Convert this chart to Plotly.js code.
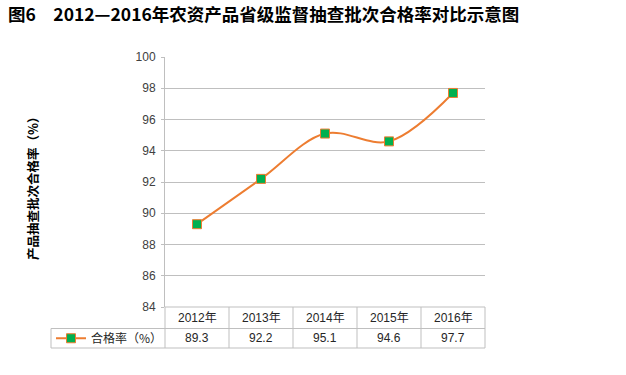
<!DOCTYPE html>
<html>
<head>
<meta charset="utf-8">
<script src="https://cdn.plot.ly/plotly-3.0.1.min.js"></script>
<style>
html,body{margin:0;padding:0;background:#fff;}
#chart{width:626px;height:375px;}
</style>
</head>
<body>
<div id="chart"></div>
<script>
// ---- data ----
const years = ['2012年', '2013年', '2014年', '2015年', '2016年'];
const rate = [89.3, 92.2, 95.1, 94.6, 97.7];
const seriesName = '合格率（%）';
const yTicks = [84, 86, 88, 90, 92, 94, 96, 98, 100];
const chartTitle = '图6　2012—2016年农资产品省级监督抽查批次合格率对比示意图';
const yTitle = '产品抽查批次合格率（%）';

// ---- layout helpers ----
const W = 626, H = 375;
const mL = 165, mR = 141, mT = 57, mB = 68;
const plotW = W - mL - mR, plotH = H - mT - mB;
const px2x = p => (p - mL) / plotW;        // page px -> paper x
const px2y = p => (H - mB - p) / plotH;    // page px -> paper y

const gridC = '#bfbfbf';
const tableFont = "'Liberation Sans', 'Noto Sans CJK SC', sans-serif";

const rowMid = px2y(328.5), rowBot = px2y(348);
const legLeft = px2x(51);

const shapes = [];
const lineStyle = {color: gridC, width: 1};
shapes.push({type:'line', xref:'paper', yref:'paper', x0:0, x1:1, y0:0, y1:0, line:lineStyle});
shapes.push({type:'line', xref:'paper', yref:'paper', x0:legLeft, x1:1, y0:rowMid, y1:rowMid, line:lineStyle});
shapes.push({type:'line', xref:'paper', yref:'paper', x0:legLeft, x1:1, y0:rowBot, y1:rowBot, line:lineStyle});
shapes.push({type:'line', xref:'paper', yref:'paper', x0:legLeft, x1:legLeft, y0:rowMid, y1:rowBot, line:lineStyle});
for (let i = 0; i <= years.length; i++) {
  const xv = i / years.length;
  shapes.push({type:'line', xref:'paper', yref:'paper', x0:xv, x1:xv, y0:rowBot, y1:0, line:lineStyle});
}

const annotations = [];
years.forEach((yr, i) => {
  annotations.push({xref:'x', yref:'paper', x:yr, y:(0 + rowMid) / 2, text:yr, showarrow:false,
    xanchor:'center', yanchor:'middle', font:{family:tableFont, size:12, color:'#262626'}});
  annotations.push({xref:'x', yref:'paper', x:yr, y:(rowMid + rowBot) / 2, text:rate[i].toFixed(1), showarrow:false,
    xanchor:'center', yanchor:'middle', font:{family:tableFont, size:12, color:'#262626'}});
});
annotations.push({xref:'paper', yref:'paper', x:px2x(32), y:px2y(185), text:yTitle, textangle:-90,
  showarrow:false, xanchor:'center', yanchor:'middle',
  font:{family:"'Noto Sans CJK SC', sans-serif", size:12.5, weight:'bold', color:'#000'}});

const trace = {
  x: years, y: rate, name: seriesName, type: 'scatter', mode: 'lines+markers',
  line: {color:'#ED7D31', width:2, shape:'spline', smoothing:1},
  marker: {symbol:'square', size:9, color:'#00B050', line:{color:'#ED7D31', width:1}},
  cliponaxis: false
};

const layout = {
  width: W, height: H,
  margin: {l:mL, r:mR, t:mT, b:mB, pad:0},
  paper_bgcolor:'#fff', plot_bgcolor:'#fff',
  title: {text: chartTitle, xref:'container', yref:'container', x: 8 / W, xanchor:'left',
    y: 1 - 15 / H, yanchor:'middle',
    font:{family:"'Noto Sans CJK SC', sans-serif", size:17.5, weight:'bold', color:'#000'}},
  xaxis: {type:'category', range:[-0.5, years.length - 0.5], showticklabels:false, showgrid:false,
    zeroline:false, showline:false, ticks:'', fixedrange:true},
  yaxis: {range:[84, 100], tickvals:yTicks, ticktext:yTicks.map(String), showgrid:true, gridcolor:gridC,
    gridwidth:1, zeroline:false, showline:true, linecolor:gridC, linewidth:1, ticks:'outside', ticklen:3,
    tickcolor:gridC, ticklabelstandoff:3,
    tickfont:{family:"'Liberation Sans', sans-serif", size:12, color:'#404040'}},
  showlegend: true,
  legend: {x: legLeft, xref:'paper', xanchor:'left', y:(rowMid + rowBot) / 2, yanchor:'middle',
    bgcolor:'rgba(0,0,0,0)', borderwidth:0,
    font:{family:"'Noto Sans CJK SC', sans-serif", size:12, color:'#262626'}},
  shapes: shapes,
  annotations: annotations
};

Plotly.newPlot('chart', [trace], layout, {displayModeBar:false, staticPlot:true});
</script>
</body>
</html>
